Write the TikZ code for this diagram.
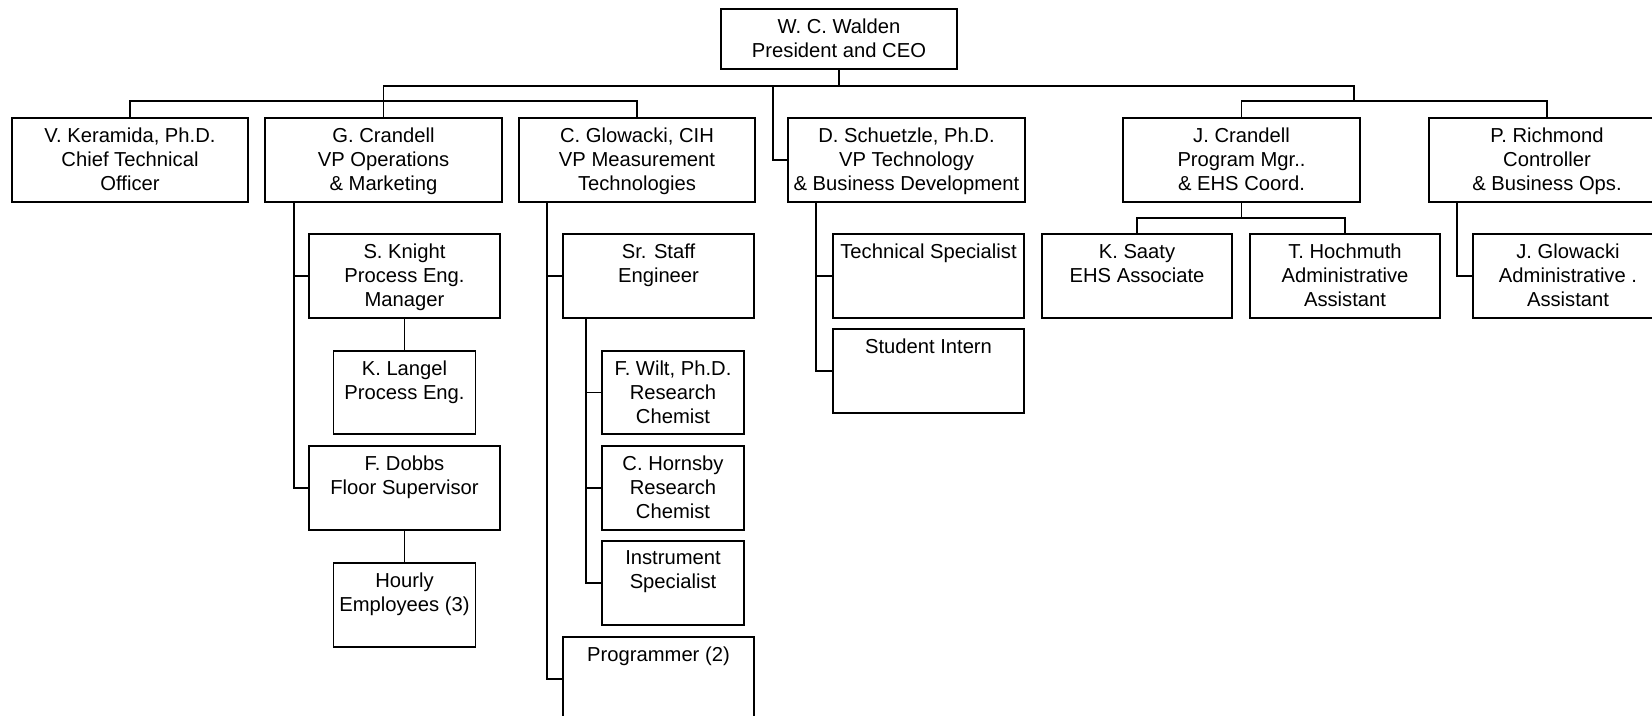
\documentclass[tikz,border=0pt]{standalone}
\usepackage{fontspec}
\setmainfont{Liberation Sans}
\tikzset{
  boxstyle/.style={draw, rectangle, inner sep=0pt, outer sep=0pt, line width=0.75pt},
  txt/.style={anchor=north, inner sep=0pt, outer sep=0pt, align=center, font=\fontsize{11.5}{13.6}\selectfont},
  conn/.style={line width=0.75pt},
}
\newcommand\orgbox[6]{%
  \node[boxstyle, minimum width={(#4-#2)*0.02cm}, minimum height={(#5-#3)*0.02cm}] (#1) at ({(#2+#4)/2},{(#3+#5)/2}) {};
  \node[txt] (#1t) at ([yshift=-0.20cm]#1.north) {#6};
}
\begin{document}
\begin{tikzpicture}[x=0.02cm, y=-0.02cm]
\useasboundingbox (0,0) rectangle (1652,716);
\orgbox{ceo}{721}{9}{957}{69}{W. C. Walden\\President and CEO}
\orgbox{ker}{12}{118}{248}{202}{V. Keramida, Ph.D.\\Chief Technical\\Officer}
\orgbox{gcr}{265}{118}{502}{202}{G. Crandell\\VP Operations\\\& Marketing}
\orgbox{cgl}{519}{118}{755}{202}{C. Glowacki, CIH\\VP Measurement\\Technologies}
\orgbox{sch}{788}{118}{1025}{202}{D. Schuetzle, Ph.D.\\VP Technology\\\& Business Development}
\orgbox{jcr}{1123}{118}{1360}{202}{J. Crandell\\Program Mgr..\\\& EHS Coord.}
\orgbox{pri}{1429}{118}{1665}{202}{P. Richmond\\Controller\\\& Business Ops.}
\orgbox{skn}{309}{234}{500}{318}{S. Knight\\Process Eng.\\Manager}
\orgbox{kla}{333.5}{351}{475.5}{434}{K. Langel\\Process Eng.}
\orgbox{fdo}{309}{446}{500}{530}{F. Dobbs\\Floor Supervisor}
\orgbox{hou}{333.5}{563}{475.5}{647}{Hourly\\Employees (3)}
\orgbox{sst}{563}{234}{754}{318}{Sr. Staff\\Engineer}
\orgbox{fwi}{602}{351}{744}{434}{F. Wilt, Ph.D.\\Research\\Chemist}
\orgbox{cho}{602}{446}{744}{530}{C. Hornsby\\Research\\Chemist}
\orgbox{ins}{602}{541}{744}{625}{Instrument\\Specialist}
\orgbox{pro}{563}{637}{754}{721}{Programmer (2)}
\orgbox{tsp}{833}{234}{1024}{318}{Technical Specialist}
\orgbox{sin}{833}{329}{1024}{413}{Student Intern}
\orgbox{ksa}{1042}{234}{1232}{318}{K. Saaty\\EHS Associate}
\orgbox{tho}{1250}{234}{1440}{318}{T. Hochmuth\\Administrative\\Assistant}
\orgbox{jgl}{1473}{234}{1663}{318}{J. Glowacki\\Administrative .\\Assistant}
% junction coordinates
\coordinate (rb) at (1354,101);
\coordinate (sj) at (773,86);
\coordinate (g1) at (294,202);
\coordinate (c1) at (547,202);
\coordinate (s1) at (586,318);
\coordinate (d1) at (816,202);
\coordinate (p1) at (1457,202);
% top level
\draw[conn] (ceo.south) -- ++(0,17);
\draw[conn] (gcr.north) -- ++(0,-32) -| (rb);
\draw[conn] (ker.north) -- ++(0,-17) -| (cgl.north);
\draw[conn] (jcr.north) -- ++(0,-17) -| (pri.north);
\draw[conn] (sj) |- (sch.west);
% G. Crandell branch
\draw[conn] (g1) |- (skn.west);
\draw[conn] (g1) |- (fdo.west);
\draw[conn] (skn.south) -- (kla.north);
\draw[conn] (fdo.south) -- (hou.north);
% C. Glowacki branch
\draw[conn] (c1) |- (sst.west);
\draw[conn] (c1) |- (pro.west);
\draw[conn] (s1) |- (fwi.west);
\draw[conn] (s1) |- (cho.west);
\draw[conn] (s1) |- (ins.west);
% Schuetzle branch
\draw[conn] (d1) |- (tsp.west);
\draw[conn] (d1) |- (sin.west);
% J. Crandell branch
\draw[conn] (jcr.south) -- ++(0,16) -| (ksa.north);
\draw[conn] (jcr.south) -- ++(0,16) -| (tho.north);
% P. Richmond branch
\draw[conn] (p1) |- (jgl.west);
\end{tikzpicture}
\end{document}
